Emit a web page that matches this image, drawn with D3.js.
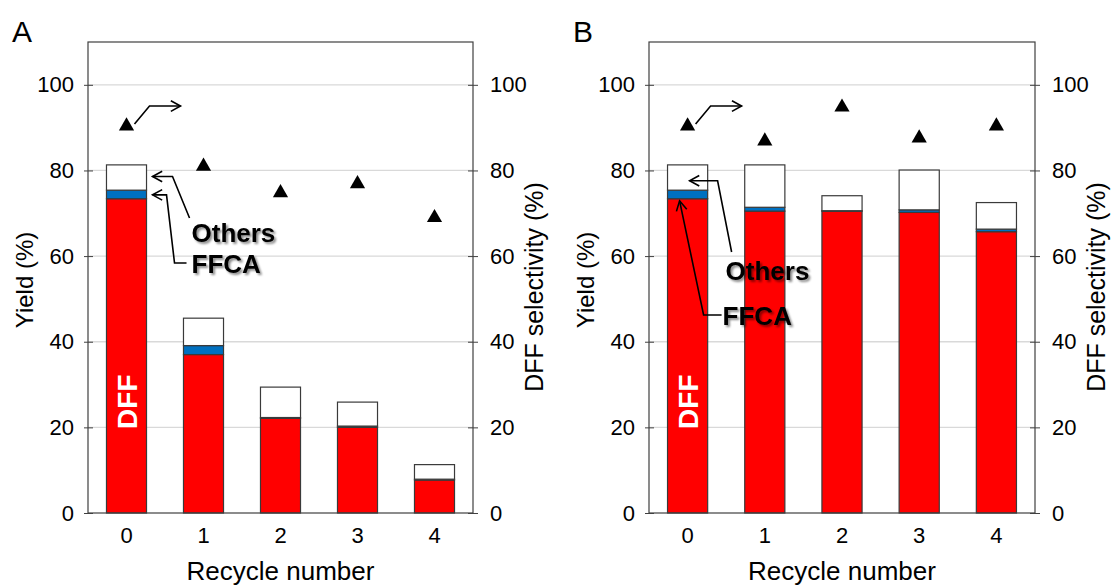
<!DOCTYPE html>
<html>
<head>
<meta charset="utf-8">
<script src="https://cdn.jsdelivr.net/npm/d3@7"></script>
<style>
  html, body { margin: 0; padding: 0; background: #fff; }
  svg { display: block; font-family: "Liberation Sans", Arial, sans-serif; }
</style>
</head>
<body>
<svg id="chart" width="1111" height="586"></svg>
<script>
// Recycle runs (x categories)
const categories = ["0", "1", "2", "3", "4"];
const yTicks = [0, 20, 40, 60, 80, 100];

// Panel A: yields (%) per product and DFF selectivity (%)
const dffA    = [73.4, 37.0, 22.1, 20.0, 7.7];
const ffcaA   = [2.0, 2.1, 0.2, 0.3, 0.2];
const othersA = [5.9, 6.4, 7.1, 5.6, 3.4];
const selA    = [90.6, 81.2, 75.0, 77.1, 69.2];

// Panel B: yields (%) per product and DFF selectivity (%)
const dffB    = [73.4, 70.5, 70.5, 70.2, 65.7];
const ffcaB   = [2.0, 0.9, 0.1, 0.6, 0.6];
const othersB = [5.9, 9.9, 3.5, 9.3, 6.2];
const selB    = [90.6, 87.1, 95.0, 87.8, 90.6];

const seriesKeys = ["DFF", "FFCA", "Others"];
const seriesColors = { DFF: "#ff0000", FFCA: "#0070c0", Others: "#ffffff" };

const svg = d3.select("#chart");
const defs = svg.append("defs");
const shadow = defs.append("filter").attr("id", "txtShadow")
  .attr("x", "-20%").attr("y", "-30%").attr("width", "150%").attr("height", "170%");
shadow.append("feDropShadow").attr("dx", 2).attr("dy", 2)
  .attr("stdDeviation", 1.3).attr("flood-color", "#000").attr("flood-opacity", 0.45);

const plotTop = 42, plotBottom = 513;
const y = d3.scaleLinear().domain([0, 110]).range([plotBottom, plotTop]);

function buildTable(dff, ffca, others) {
  return categories.map((c, i) => ({ cat: c, DFF: dff[i], FFCA: ffca[i], Others: others[i] }));
}

// draw a bent arrow through points, with an open chevron head at the last point
function arrow(g, pts) {
  g.append("path")
    .attr("d", d3.line()(pts))
    .attr("fill", "none").attr("stroke", "#000").attr("stroke-width", 1.6);
  const [p1, p0] = [pts[pts.length - 1], pts[pts.length - 2]];
  const ang = Math.atan2(p0[1] - p1[1], p0[0] - p1[0]);
  const L = 11, spread = 0.5;
  const a = [p1[0] + L * Math.cos(ang + spread), p1[1] + L * Math.sin(ang + spread)];
  const b = [p1[0] + L * Math.cos(ang - spread), p1[1] + L * Math.sin(ang - spread)];
  g.append("path")
    .attr("d", d3.line()([a, p1, b]))
    .attr("fill", "none").attr("stroke", "#000").attr("stroke-width", 1.6);
}

function panel(opts) {
  const { left, right, letter, dff, ffca, others, sel, annotate } = opts;
  const g = svg.append("g");
  const x = d3.scaleBand().domain(categories).range([left, right])
    .paddingInner(0.48).paddingOuter(0.24);

  // gridlines
  g.append("g").selectAll("line").data(yTicks.filter(t => t > 0)).join("line")
    .attr("x1", left).attr("x2", right)
    .attr("y1", d => y(d)).attr("y2", d => y(d))
    .attr("stroke", "#d9d9d9").attr("stroke-width", 1.3);

  // stacked bars
  const stacked = d3.stack().keys(seriesKeys)(buildTable(dff, ffca, others));
  g.append("g").selectAll("g").data(stacked).join("g")
    .attr("fill", d => seriesColors[d.key])
    .selectAll("rect").data(d => d).join("rect")
    .attr("x", d => x(d.data.cat))
    .attr("width", x.bandwidth())
    .attr("y", d => y(d[1]))
    .attr("height", d => y(d[0]) - y(d[1]))
    .attr("stroke", "#3a3a3a").attr("stroke-width", 1.2);

  // frame
  g.append("rect").attr("x", left).attr("y", plotTop)
    .attr("width", right - left).attr("height", plotBottom - plotTop)
    .attr("fill", "none").attr("stroke", "#404040").attr("stroke-width", 1.2);

  // left axis
  const yl = d3.axisLeft(y).tickValues(yTicks).tickSize(4).tickPadding(8);
  const gl = g.append("g").attr("transform", `translate(${left},0)`).call(yl);
  gl.select(".domain").remove();
  gl.selectAll(".tick line").attr("x2", 5).attr("x1", -4).attr("stroke", "#404040");
  gl.selectAll(".tick text").attr("font-size", 22).attr("fill", "#000")
    .attr("font-family", "Liberation Sans, Arial, sans-serif").attr("dx", -2);

  // right axis (selectivity)
  const yr = d3.axisRight(y).tickValues(yTicks).tickSize(4).tickPadding(10);
  const gr = g.append("g").attr("transform", `translate(${right},0)`).call(yr);
  gr.select(".domain").remove();
  gr.selectAll(".tick line").attr("x1", -5).attr("x2", 5).attr("stroke", "#404040");
  gr.selectAll(".tick text").attr("font-size", 22).attr("fill", "#000")
    .attr("font-family", "Liberation Sans, Arial, sans-serif").attr("dx", 3);

  // bottom axis labels
  const xb = d3.axisBottom(x).tickSize(0).tickPadding(14);
  const gb = g.append("g").attr("transform", `translate(0,${plotBottom})`).call(xb);
  gb.select(".domain").remove();
  gb.selectAll(".tick text").attr("font-size", 22).attr("fill", "#000")
    .attr("font-family", "Liberation Sans, Arial, sans-serif");

  // selectivity markers
  const tri = d3.symbol().type(d3.symbolTriangle).size(100);
  g.append("g").selectAll("path").data(sel).join("path")
    .attr("d", tri)
    .attr("transform", (d, i) => `translate(${x(categories[i]) + x.bandwidth() / 2},${y(d) + 1})`)
    .attr("fill", "#000");

  // titles
  g.append("text").attr("x", left - 76).attr("y", 42)
    .attr("font-size", 30).attr("fill", "#000").text(letter);
  g.append("text")
    .attr("transform", `translate(${left - 55},280) rotate(-90)`)
    .attr("text-anchor", "middle").attr("font-size", 24).attr("fill", "#000")
    .text("Yield (%)");
  g.append("text")
    .attr("transform", `translate(${right + 70},287) rotate(-90)`)
    .attr("text-anchor", "middle").attr("font-size", 25).attr("fill", "#000")
    .text("DFF selectivity (%)");
  g.append("text").attr("x", (left + right) / 2).attr("y", 580)
    .attr("text-anchor", "middle").attr("font-size", 26).attr("fill", "#000")
    .text("Recycle number");

  // DFF label inside first bar
  const c0 = x(categories[0]) + x.bandwidth() / 2;
  g.append("text")
    .attr("transform", `translate(${c0 + 10},${y(26)}) rotate(-90)`)
    .attr("text-anchor", "middle").attr("font-size", 28).attr("font-weight", "bold")
    .attr("fill", "#fff").text("DFF");

  // arrow from first selectivity marker toward the right axis
  const m0 = [c0 + 8, y(sel[0]) - 1];
  arrow(g, [m0, [m0[0] + 15, m0[1] - 18], [m0[0] + 46, m0[1] - 18]]);

  annotate(g, x, c0);
}

panel({
  left: 88, right: 473, letter: "A",
  dff: dffA, ffca: ffcaA, others: othersA, sel: selA,
  annotate: (g, x, c0) => {
    const edge = x(categories[0]) + x.bandwidth();
    arrow(g, [[edge + 43, 218], [edge + 26, y(78.6)], [edge + 6, y(78.6)]]);
    arrow(g, [[edge + 40, 263], [edge + 28, 263], [edge + 20, y(74.3)], [edge + 6, y(74.3)]]);
    g.append("text").attr("x", edge + 45).attr("y", 242)
      .attr("font-size", 26).attr("font-weight", "bold").attr("fill", "#000")
      .attr("filter", "url(#txtShadow)").text("Others");
    g.append("text").attr("x", edge + 45).attr("y", 273)
      .attr("font-size", 26).attr("font-weight", "bold").attr("fill", "#000")
      .attr("filter", "url(#txtShadow)").text("FFCA");
  }
});

panel({
  left: 649, right: 1035, letter: "B",
  dff: dffB, ffca: ffcaB, others: othersB, sel: selB,
  annotate: (g, x, c0) => {
    arrow(g, [[c0 + 44, 252], [c0 + 30, y(77.6)], [c0 + 2, y(77.6)]]);
    arrow(g, [[c0 + 34, 315], [c0 + 16, 315], [c0 - 8, y(72.9)]]);
    g.append("text").attr("x", c0 + 38).attr("y", 280)
      .attr("font-size", 26).attr("font-weight", "bold").attr("fill", "#000")
      .attr("filter", "url(#txtShadow)").text("Others");
    g.append("text").attr("x", c0 + 35).attr("y", 325)
      .attr("font-size", 26).attr("font-weight", "bold").attr("fill", "#000")
      .attr("filter", "url(#txtShadow)").text("FFCA");
  }
});
</script>
</body>
</html>
